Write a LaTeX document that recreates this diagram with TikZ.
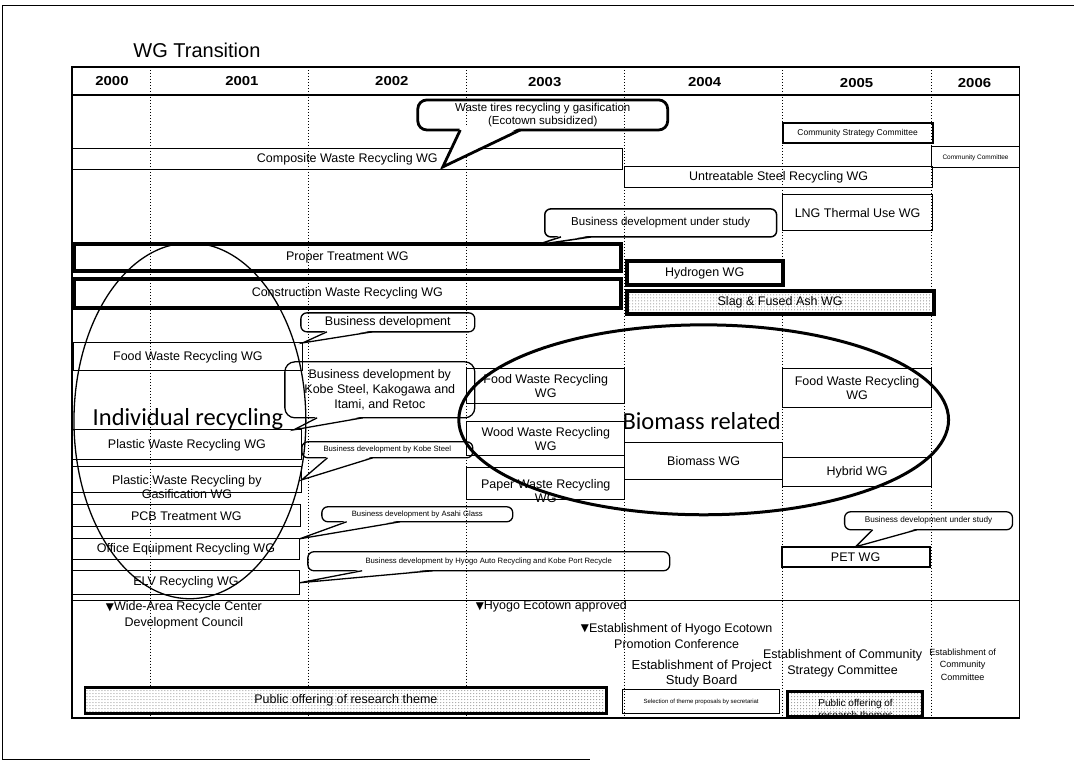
\documentclass[tikz,border=0pt]{standalone}
\usepackage{fontspec}
\setmainfont{Liberation Sans}
\newfontfamily\labelfont{Carlito}
\newfontfamily\symbolfont{DejaVu Sans}
\usetikzlibrary{calc,patterns}
\newcommand\fsz[2]{\fontsize{#1}{#2}\selectfont}
\newcommand\dtri{\raisebox{0.5pt}{\symbolfont\fsz{10.5}{10.5}▼}}
\newcommand\yr[1]{\scalebox{1.15}[1]{#1}}
% tail of a speech bubble: #1 bubble node, #2/#3 base positions along its
% bottom side (fractions), #4 tip, #5 line width
\newcommand\bubbletail[5]{%
  \path ($(#1.south west)!#2!(#1.south east)$) coordinate (#1-a)
        ($(#1.south west)!#3!(#1.south east)$) coordinate (#1-b);
  \fill[white] ([yshift=#5]#1-a) -- (#4) -- ([yshift=#5]#1-b) -- cycle;
  \draw[line width=#5, line join=miter] (#1-a) -- (#4) -- (#1-b);}

\begin{document}
\begin{tikzpicture}[x=1pt,y=-1pt,
  every node/.style={outer sep=0pt, inner sep=0pt},
  wg/.style={draw, line width=1.1pt, align=center, font=\fsz{12.5}{14}},
  heavywg/.style={wg, line width=4pt},
  bubble/.style={draw, line width=1.3pt, rounded corners=6pt, align=center, font=\fsz{12.5}{14}},
  tinybubble/.style={bubble, font=\fsz{7.7}{9}},
  stipple/.style={preaction={fill=white}, pattern=dots, pattern color=black!55},
  year/.style={font=\fsz{13}{15}\bfseries},
  note/.style={align=center, font=\fsz{12.5}{16}},
  grid/.style={line width=1pt, dash pattern=on 1pt off 2pt},
  frame/.style={line width=1.8pt},
  zone/.style={font=\labelfont\fsz{24.5}{27}, anchor=base},
]
\fill[white] (0,0) rectangle (1074,772);
\draw[line width=1pt] (1074,5) -- (3,5) -- (3,760) -- (590,760);

\node[font=\fsz{20}{22}] (title) at (197,50) {WG Transition};

% year columns and table frame
\foreach \x in {151,309,467,625,783,932} \draw[grid] (\x,67) -- (\x,718);
\draw[frame] (72,67) rectangle (1020,718);
\draw[line width=1.5pt] (72,95) -- (1020,95);
\draw[line width=1.2pt] (72,601) -- (1020,601);

\node[year] (y2000) at (112,81) {\yr{2000}};
\node[year] (y2001) at (242,81) {\yr{2001}};
\node[year] (y2002) at (392,81) {\yr{2002}};
\node[year] (y2003) at (545,82) {\yr{2003}};
\node[year] (y2004) at (705,82) {\yr{2004}};
\node[year] (y2005) at (857,83) {\yr{2005}};
\node[year] (y2006) at (975,83) {\yr{2006}};

% working groups
\node[wg, minimum width=551pt, minimum height=21pt] (comp) at (347.5,159.5) {Composite Waste Recycling WG};
\node[wg, line width=2pt, font=\fsz{8.5}{10}, minimum width=150pt, minimum height=20pt] (cscom) at (858,133) {Community Strategy Committee};
\node[wg, font=\fsz{6.5}{8}, minimum width=88pt, minimum height=21pt] (ccom) at (976,157.5) {Community Committee};
\node[wg, minimum width=308pt, minimum height=21pt] (steel) at (779,177.5) {Untreatable Steel Recycling WG};
\node[wg, minimum width=150pt, minimum height=36pt] (lng) at (858,213) {LNG Thermal Use WG};
\node[heavywg, minimum width=547pt, minimum height=27pt] (proper) at (347.5,257.5) {Proper Treatment WG};
\node[heavywg, minimum width=156pt, minimum height=24pt] (hydro) at (705,273) {Hydrogen WG};
\node[heavywg, minimum width=547pt, minimum height=29pt] (constr) at (347.5,293.5) {Construction Waste Recycling WG};
\node[heavywg, stipple, minimum width=307pt, minimum height=23pt] (slag) at (780.5,302.5) {Slag \& Fused Ash WG};

\node[wg, minimum width=230pt, minimum height=28pt] (food1) at (188,357) {Food Waste Recycling WG};
\node[wg, minimum width=230pt, minimum height=30pt] (plast1) at (187,445) {Plastic Waste Recycling WG};
\node[wg, minimum width=230pt, minimum height=26pt] (plastgas) at (187,480) {};
\node[align=center, font=\fsz{12.5}{14}] (plastgastext) at (187,487) {Plastic Waste Recycling by\\Gasification WG};
\node[wg, minimum width=229pt, minimum height=22pt] (pcb) at (186.5,516) {PCB Treatment WG};
\node[wg, minimum width=228pt, minimum height=21pt] (office) at (186,549.5) {Office Equipment Recycling WG};
\node[wg, minimum width=228pt, minimum height=24pt] (elv) at (186,583) {ELV Recycling WG};

\node[wg, minimum width=158pt, minimum height=35pt] (food03) at (546,386.5) {Food Waste Recycling\\WG};
\node[wg, minimum width=158pt, minimum height=34pt] (wood) at (546,439) {Wood Waste Recycling\\WG};
\node[wg, minimum width=158pt, minimum height=32pt] (paper) at (546,484) {};
\node[align=center, font=\fsz{12.5}{14}] (papertext) at (546,491) {Paper Waste Recycling\\WG};
\node[wg, minimum width=158pt, minimum height=37pt] (biomass) at (704,461.5) {Biomass WG};
\node[wg, minimum width=149pt, minimum height=39pt] (food05) at (857.5,388.5) {Food Waste Recycling\\WG};
\node[wg, minimum width=149pt, minimum height=29pt] (hybrid) at (857.5,472.5) {Hybrid WG};
\node[wg, line width=2pt, minimum width=148pt, minimum height=20pt] (pet) at (856,557) {PET WG};

% speech bubbles
\node[bubble, line width=2.8pt, rounded corners=9pt, font=\fsz{11.5}{12.5}, minimum width=250pt, minimum height=30pt] (tires) at (543,115) {Waste tires recycling y gasification\\(Ecotown subsidized)};
\coordinate (tirestip) at (443,167);
\bubbletail{tires}{0.17}{0.41}{tirestip}{2.8pt}

\node[bubble, line width=1.5pt, font=\fsz{11.5}{13}, minimum width=232pt, minimum height=28pt] (bdev) at (661,223) {Business development under study};
\coordinate (bdevtip) at (537,245);
\bubbletail{bdev}{0.07}{0.2}{bdevtip}{1.5pt}

\node[bubble, minimum width=174pt, minimum height=19pt] (bd1) at (388,322.5) {Business development};
\bubbletail{bd1}{0.15}{0.41}{food1.north east}{1.3pt}

\node[bubble, rounded corners=10pt, font=\fsz{12.5}{15}, minimum width=190pt, minimum height=56pt] (kobe) at (380,390) {Business development by\\Kobe Steel, Kakogawa and\\Itami, and Retoc};
\bubbletail{kobe}{0.17}{0.41}{[xshift=-8pt]plast1.north east}{1.3pt}

\node[tinybubble, minimum width=171pt, minimum height=16pt] (kobesteel) at (387.5,450) {Business development by Kobe Steel};
\bubbletail{kobesteel}{0.15}{0.415}{plastgas.east}{1.3pt}

\node[tinybubble, minimum width=191pt, minimum height=15pt] (asahi) at (417.5,514.5) {Business development by Asahi Glass};
\bubbletail{asahi}{0.13}{0.41}{office.north east}{1.3pt}

\node[tinybubble, minimum width=362pt, minimum height=19pt] (hyogo) at (489,561.5) {Business development by Hyogo Auto Recycling and Kobe Port Recycle};
\bubbletail{hyogo}{0.15}{0.345}{elv.east}{1.3pt}

\node[tinybubble, font=\fsz{8.2}{9}, minimum width=168pt, minimum height=18pt] (bdev05) at (929,521) {Business development under study};
\bubbletail{bdev05}{0.167}{0.43}{pet.north}{1.3pt}

% groupings
\draw[line width=1.3pt] (190,421) ellipse [x radius=116, y radius=178];
\draw[line width=3pt] (704,420) ellipse [x radius=245, y radius=95];
\node[zone] (indiv) at (188,426) {Individual recycling};
\node[zone] (biom) at (702,430) {Biomass related};

% milestones
\node[note] (wide) at (184,616) {\dtri Wide-Area Recycle Center\\Development Council};
\node[note, anchor=west] (ecoap) at (476,607) {\dtri Hyogo Ecotown approved};
\node[note] (promo) at (677,636) {\dtri Establishment of Hyogo Ecotown\\Promotion Conference};
\node[note, font=\fsz{13}{15}] (board) at (702,674) {Establishment of Project\\Study Board};
\node[note] (commstrat) at (843,664) {Establishment of Community\\Strategy Committee};
\node[note, font=\fsz{9}{12.5}] (commest) at (963,665) {Establishment of\\Community\\Committee};

% research theme calls
\node[wg, stipple, line width=2.5pt, minimum width=522pt, minimum height=26pt] (pub1) at (346,701) {Public offering of research theme};
\node[wg, line width=1.5pt, font=\fsz{6}{7}, minimum width=157pt, minimum height=24pt] (secr) at (701.5,702) {Selection of theme proposals by secretariat};
\node[wg, stipple, line width=2.5pt, minimum width=135pt, minimum height=25pt] (pub2) at (855.5,704.5) {};
\node[align=center, font=\fsz{10}{12}] (pub2text) at (856,709) {Public offering of\\research themes};
\end{tikzpicture}
\end{document}
